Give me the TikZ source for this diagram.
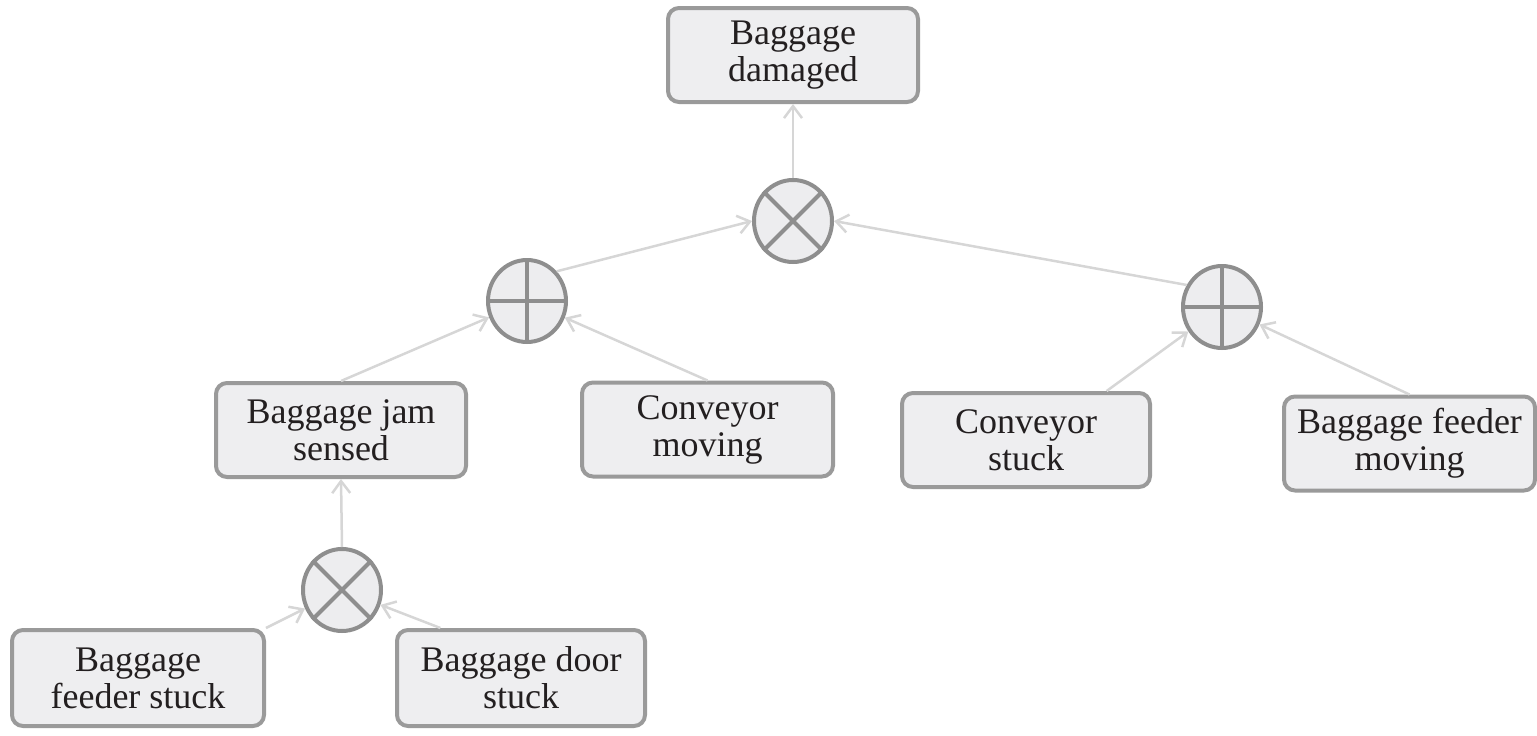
\documentclass[tikz,border=0pt]{standalone}
\usepackage{fontspec}
\setmainfont{Liberation Serif}
\usetikzlibrary{shapes.geometric,arrows.meta,calc}
\definecolor{boxfill}{HTML}{EEEEF0}
\definecolor{boxline}{HTML}{9A9A9A}
\definecolor{gatefill}{HTML}{EDEDEF}
\definecolor{gateline}{HTML}{8E8E8E}
\definecolor{arrcol}{HTML}{D6D6D6}
\definecolor{txt}{HTML}{231F20}
\tikzset{
  evbox/.style={draw=boxline, fill=boxfill, line width=4pt, rounded corners=11pt,
    minimum width=#1, minimum height=94pt, inner sep=0pt, align=center,
    text=txt, font=\fontsize{36}{37}\selectfont},
  evbox/.default=250pt,
  gate/.style={ellipse, draw=gateline, fill=gatefill, line width=4pt,
    minimum width=78pt, minimum height=82pt, inner sep=0pt},
  gl/.style={draw=gateline, line width=4pt},
  arr/.style={draw=arrcol, line width=2.5pt, -{Straight Barb[length=12pt,width=18pt]}}
}
\newcommand{\xgate}[1]{\draw[gl] (#1.45) -- (#1.225) (#1.135) -- (#1.315);}
\newcommand{\pgate}[1]{\draw[gl] (#1.north) -- (#1.south) (#1.east) -- (#1.west);}
\begin{document}
\begin{tikzpicture}[x=1pt,y=-1pt]
\useasboundingbox (0,0) rectangle (1537,736);
% events
\node[evbox] (top) at (793,55) {Baggage\\damaged};
\node[evbox] (jam) at (341,430) {Baggage jam\\sensed};
\node[evbox=251pt] (cm) at (707.5,429.5) {Conveyor\\moving};
\node[evbox=248pt] (cs) at (1026,440) {Conveyor\\stuck};
\node[evbox=251pt] (fm) at (1409.5,443.5) {Baggage feeder\\moving};
\node[evbox=252pt, minimum height=96pt] (fs) at (138,678) {Baggage\\feeder stuck};
\node[evbox=248pt, minimum height=96pt] (ds) at (521,678) {Baggage door\\stuck};
% gates
\node[gate] (tg) at (793,221) {};
\node[gate] (lg) at (527,301) {};
\node[gate] (rg) at (1222,307) {};
\node[gate] (bg) at (342,590) {};
\xgate{tg}
\xgate{bg}
\pgate{lg}
\pgate{rg}
% connectors
\draw[arr] (tg.north) -- (top.south);
\draw[arr] (lg.45) -- (tg.west);
\draw[arr] (rg.148) -- (tg.east);
\draw[arr] (jam.north) -- (lg);
\draw[arr] (cm.north) -- (lg);
\draw[arr] ($(cs.north)!0.64!(cs.north east)$) -- (rg);
\draw[arr] (fm.north) -- (rg);
\draw[arr] (bg.north) -- (jam.south);
\draw[arr] (fs.north east) -- (bg);
\draw[arr] ($(ds.north)!0.64!(ds.north west)$) -- (bg);
\end{tikzpicture}
\end{document}
